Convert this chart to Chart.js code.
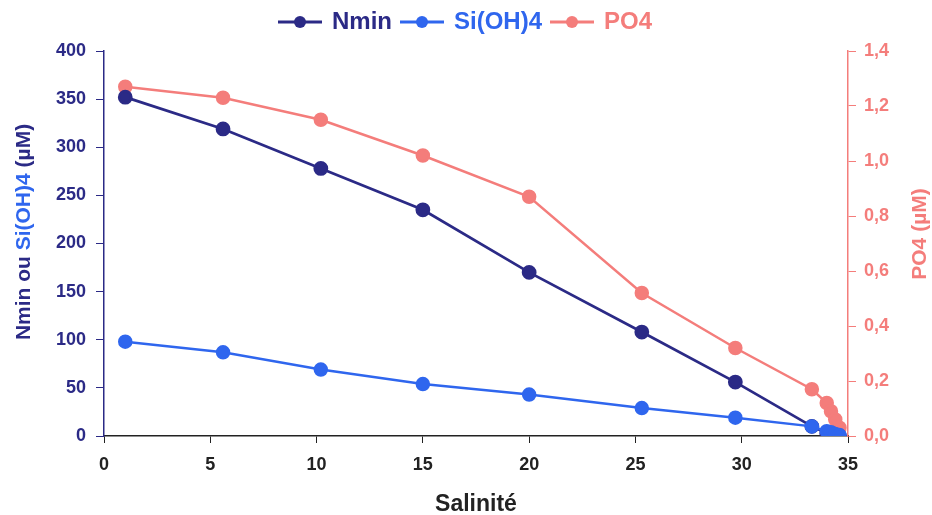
<!DOCTYPE html>
<html>
<head>
<meta charset="utf-8">
<script src="https://cdn.jsdelivr.net/npm/chart.js@4"></script>
<style>
  html, body { margin: 0; padding: 0; background: #fff; }
  #wrap { width: 932px; height: 515px; position: relative; }
</style>
</head>
<body>
<div id="wrap"><canvas id="chart"></canvas></div>
<script>
// values
const salinity = [1.0, 5.6, 10.2, 15.0, 20.0, 25.3, 29.7, 33.3, 34.0, 34.2, 34.4, 34.6];
const nmin = [352, 319, 278, 235, 170, 108, 56, 10, 3, 2, 1, 0];
const siOH4 = [98, 87, 69, 54, 43, 29, 19, 10, 5, 4, 2, 1];
const po4 = [1.27, 1.23, 1.15, 1.02, 0.87, 0.52, 0.32, 0.17, 0.12, 0.09, 0.06, 0.03];

const NAVY = '#2b2a86';
const BLUE = '#2f66ee';
const SALMON = '#f47d7b';
const FONT = '"Liberation Sans", Arial, sans-serif';

// small line+dot symbol for the legend
function legendIcon(color) {
  const c = document.createElement('canvas');
  c.width = 46; c.height = 14;
  const g = c.getContext('2d');
  g.strokeStyle = color; g.lineWidth = 3;
  g.beginPath(); g.moveTo(1, 7); g.lineTo(45, 7); g.stroke();
  g.fillStyle = color;
  g.beginPath(); g.arc(23, 7, 6, 0, Math.PI * 2); g.fill();
  return c;
}

function toPoints(ys) {
  return salinity.map((x, i) => ({ x, y: ys[i] }));
}

// extra room under the legend
const legendGap = {
  id: 'legendGap',
  beforeUpdate(chart) {
    const lg = chart.legend;
    if (lg && !lg._gapPatched) {
      const fit = lg.fit;
      lg.fit = function () { fit.call(this); this.height += 7; };
      lg._gapPatched = true;
    }
  }
};

// rotated axis titles (left one is two-coloured)
const titlesPlugin = {
  id: 'titles',
  afterDraw(chart) {
    const ctx = chart.ctx;
    ctx.save();
    ctx.font = 'bold 21px ' + FONT;
    ctx.textBaseline = 'middle';
    const parts = [['Nmin ou ', NAVY], ['Si(OH)4', BLUE], [' (\u00b5M)', NAVY]];
    const total = parts.reduce((s, p) => s + ctx.measureText(p[0]).width, 0);
    ctx.translate(24, 232);
    ctx.rotate(-Math.PI / 2);
    let x = -total / 2;
    parts.forEach(p => {
      ctx.fillStyle = p[1];
      ctx.textAlign = 'left';
      ctx.fillText(p[0], x, 0);
      x += ctx.measureText(p[0]).width;
    });
    ctx.restore();

    ctx.save();
    ctx.font = 'bold 21px ' + FONT;
    ctx.textBaseline = 'middle';
    ctx.textAlign = 'center';
    ctx.fillStyle = SALMON;
    ctx.translate(920, 234);
    ctx.rotate(-Math.PI / 2);
    ctx.fillText('PO4 (\u00b5M)', 0, 0);
    ctx.restore();
  }
};

const chart = new Chart(document.getElementById('chart'), {
  type: 'line',
  data: {
    datasets: [
      { label: 'Nmin', data: toPoints(nmin), yAxisID: 'y', borderColor: NAVY, backgroundColor: NAVY, borderWidth: 2.8, pointRadius: 6, tension: 0, order: 2 },
      { label: 'Si(OH)4', data: toPoints(siOH4), yAxisID: 'y', borderColor: BLUE, backgroundColor: BLUE, borderWidth: 2.5, pointRadius: 6, tension: 0, order: 1 },
      { label: 'PO4', data: toPoints(po4), yAxisID: 'y2', borderColor: SALMON, backgroundColor: SALMON, borderWidth: 2.5, pointRadius: 6, tension: 0, order: 3 }
    ]
  },
  options: {
    responsive: true,
    maintainAspectRatio: false,
    animation: false,
    layout: { padding: { top: 0, right: 0, left: 0, bottom: 0 } },
    plugins: {
      legend: {
        position: 'top',
        labels: {
          usePointStyle: true,
          pointStyleWidth: 40,
          boxHeight: 14,
          padding: 10,
          font: { size: 24, weight: 'bold', family: FONT },
          generateLabels(chart) {
            return chart.data.datasets.map((ds, i) => ({
              text: ds.label,
              fontColor: ds.borderColor,
              pointStyle: legendIcon(ds.borderColor),
              strokeStyle: ds.borderColor,
              fillStyle: ds.borderColor,
              lineWidth: 0,
              datasetIndex: i,
              hidden: false
            }));
          }
        }
      },
      tooltip: { enabled: false }
    },
    scales: {
      x: {
        type: 'linear',
        min: 0, max: 35,
        ticks: { stepSize: 5, color: '#222', padding: 11, font: { size: 18, weight: 'bold', family: FONT } },
        grid: { drawOnChartArea: false, tickLength: 7, color: '#222' },
        border: { color: '#222', width: 1.5 },
        title: { display: true, text: 'Salinit\u00e9', color: '#222', padding: { top: 17, bottom: -3 }, font: { size: 23, weight: 'bold', family: FONT } },
        afterFit(s) { s.height = 79; }
      },
      y: {
        position: 'left',
        min: 0, max: 400,
        ticks: { stepSize: 50, color: NAVY, padding: 10, font: { size: 18, weight: 'bold', family: FONT } },
        grid: { drawOnChartArea: false, tickLength: 8, color: NAVY },
        border: { color: NAVY, width: 1.5 },
        afterFit(s) { s.width = 104; }
      },
      y2: {
        position: 'right',
        min: 0, max: 1.4,
        ticks: {
          stepSize: 0.2, color: SALMON, padding: 8, font: { size: 18, weight: 'bold', family: FONT },
          callback: v => v.toFixed(1).replace('.', ',')
        },
        grid: { drawOnChartArea: false, tickLength: 8, color: SALMON },
        border: { color: SALMON, width: 1.5 },
        afterFit(s) { s.width = 84; }
      }
    }
  },
  plugins: [legendGap, titlesPlugin]
});
</script>
</body>
</html>
